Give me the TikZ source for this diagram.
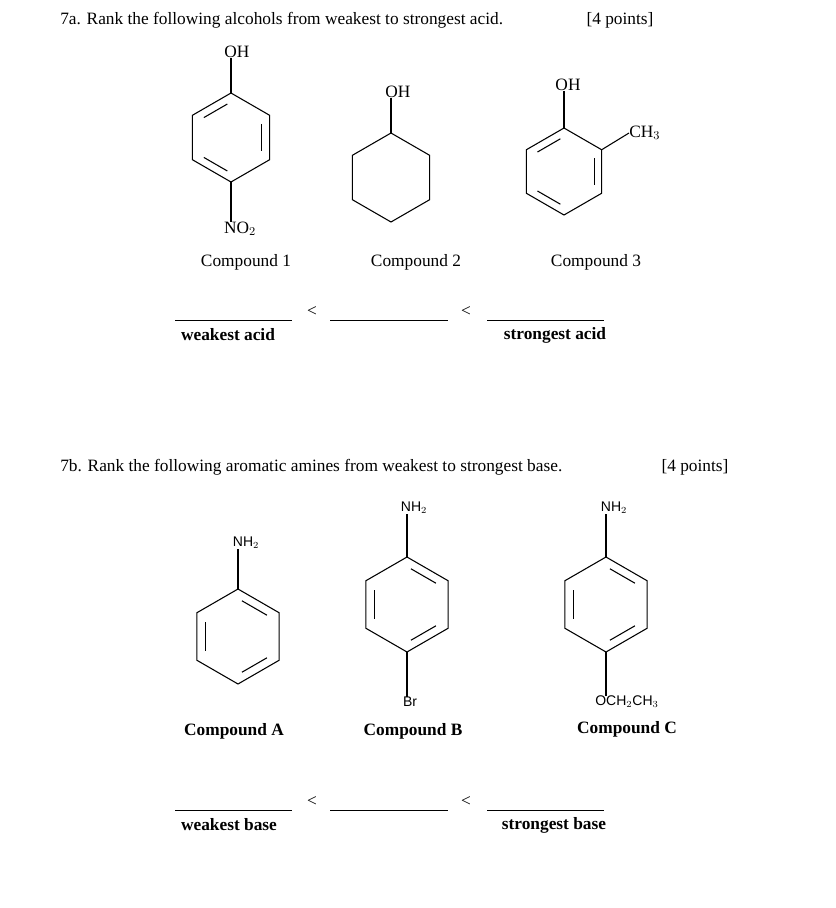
\documentclass[tikz,border=0pt]{standalone}
\usepackage{fontspec}
\setmainfont{Liberation Serif}
\setsansfont{Liberation Sans}
\usetikzlibrary{calc}
\tikzset{
  bond/.style={line width=0.8pt},
  txt/.style={inner sep=0pt, font=\fontsize{13}{15}\selectfont},
  btxt/.style={inner sep=0pt, font=\fontsize{13}{15}\selectfont\bfseries},
  grp/.style={inner sep=0pt, font=\fontsize{13}{15}\selectfont},
  sgrp/.style={inner sep=0pt, font=\sffamily\fontsize{10.5}{12}\selectfont},
  blank/.style={line width=0.5pt}
}
% hexagon: name, centre x, centre y, radius, inner double bonds
\newcommand{\hexring}[5]{
  \coordinate (#1c) at (#2,#3);
  \foreach \i in {1,...,6}{
    \coordinate (#1\i) at ($(#1c)+({270+60*(\i-1)}:#4)$);
    \coordinate (#1in\i) at ($(#1c)!0.8!(#1\i)$);
  }
  \draw[bond] (#11)--(#12)--(#13)--(#14)--(#15)--(#16)--cycle;
  \foreach \a/\b in {#5}{
    \draw[bond] ($(#1in\a)!0.12!(#1in\b)$) -- ($(#1in\b)!0.12!(#1in\a)$);
  }
}
\begin{document}
\begin{tikzpicture}[x=0.75pt,y=-0.75pt]
  \useasboundingbox (0,0) rectangle (836,908);

  % 7a
  \node[txt, anchor=west] (qa) at (60,20) {7a. Rank the following alcohols from weakest to strongest acid.};
  \node[txt] (pa) at (620,20) {[4 points]};

  \hexring{one}{231}{137.5}{44.5}{1/6,2/3,4/5}
  \node[grp] (ohone) at (237,52) {OH};
  \draw[bond] (one1) -- (ohone.south -| one1);
  \node[grp] (notwo) at (240,229) {NO$_2$};
  \draw[bond] (one4) -- (notwo.north -| one4);

  \hexring{two}{391}{177.5}{44.5}{}
  \node[grp] (ohtwo) at (398,92) {OH};
  \draw[bond] (two1) -- (ohtwo.south -| two1);

  \hexring{three}{564}{171.5}{43.5}{1/6,2/3,4/5}
  \node[grp] (ohthree) at (568,85) {OH};
  \draw[bond] (three1) -- (ohthree.south -| three1);
  \node[grp, anchor=west] (methyl) at (629,133) {CH$_3$};
  \draw[bond] (three2) -- (methyl.west);

  \node[txt] (cone) at (246,262) {Compound 1};
  \node[txt] (ctwo) at (416,262) {Compound 2};
  \node[txt] (cthree) at (596,262) {Compound 3};

  \coordinate (la1) at (175,320); \coordinate (la2) at (292,320);
  \coordinate (lb1) at (330,320); \coordinate (lb2) at (448,320);
  \coordinate (lc1) at (487,320); \coordinate (lc2) at (604,320);
  \draw[blank] (la1) -- (la2);
  \draw[blank] (lb1) -- (lb2);
  \draw[blank] (lc1) -- (lc2);
  \node[txt] (lta) at (312,312) {<};
  \node[txt] (ltb) at (466,312) {<};
  \node[btxt] (wacid) at (228,335) {weakest acid};
  \node[btxt] (sacid) at (555,335) {strongest acid};

  % 7b
  \node[txt, anchor=west] (qb) at (60,467) {7b. Rank the following aromatic amines from weakest to strongest base.};
  \node[txt] (pb) at (695,467) {[4 points]};

  \hexring{ringa}{238}{636.5}{47.5}{1/2,5/6,3/4}
  \node[sgrp] (nha) at (246,543) {NH$_2$};
  \draw[bond] (ringa1) -- (nha.south -| ringa1);

  \hexring{ringb}{407}{604.5}{47.5}{1/2,5/6,3/4}
  \node[sgrp] (nhb) at (414,508) {NH$_2$};
  \draw[bond] (ringb1) -- (nhb.south -| ringb1);
  \node[sgrp] (brb) at (410,702) {Br};
  \draw[bond] (ringb4) -- (brb.north -| ringb4);

  \hexring{ringc}{606}{604.5}{47.5}{1/2,5/6,3/4}
  \node[sgrp] (nhc) at (614,508) {NH$_2$};
  \draw[bond] (ringc1) -- (nhc.south -| ringc1);
  \node[sgrp] (etc) at (627,702) {OCH$_2$CH$_3$};
  \draw[bond] (ringc4) -- (etc.north -| ringc4);

  \node[btxt] (ca) at (234,731) {Compound A};
  \node[btxt] (cb) at (413,731) {Compound B};
  \node[btxt] (cc) at (627,729) {Compound C};

  \coordinate (ma1) at (175,810); \coordinate (ma2) at (292,810);
  \coordinate (mb1) at (330,810); \coordinate (mb2) at (448,810);
  \coordinate (mc1) at (487,810); \coordinate (mc2) at (604,810);
  \draw[blank] (ma1) -- (ma2);
  \draw[blank] (mb1) -- (mb2);
  \draw[blank] (mc1) -- (mc2);
  \node[txt] (ltc) at (312,802) {<};
  \node[txt] (ltd) at (466,802) {<};
  \node[btxt] (wbase) at (229,825) {weakest base};
  \node[btxt] (sbase) at (554,825) {strongest base};
\end{tikzpicture}
\end{document}
